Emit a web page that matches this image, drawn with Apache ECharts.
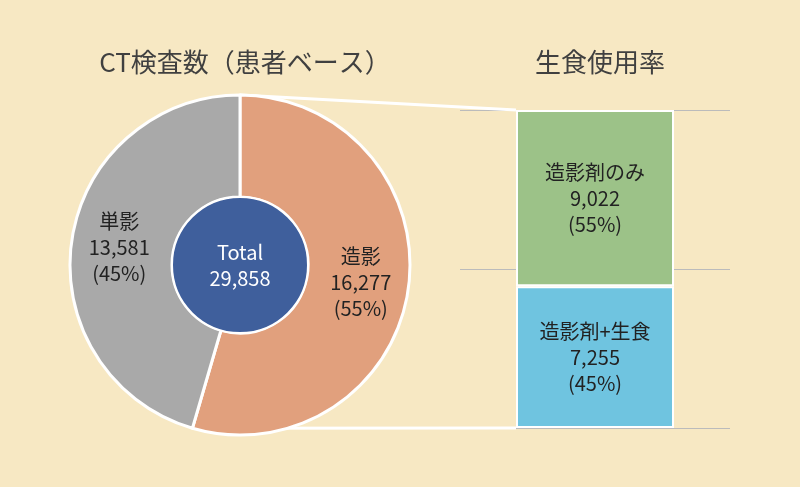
<!DOCTYPE html>
<html><head><meta charset="utf-8">
<script src="https://cdn.jsdelivr.net/npm/echarts@6/dist/echarts.min.js"></script>
<style>html,body{margin:0;background:#f7e8c3}#c{width:800px;height:487px}</style>
</head><body><div id="c"></div>
<script>
const pieNames=['造影','単影'];
const pieValues=[16277,13581];
const pieColors=['#e1a07d','#a9a9a9'];
const total=29858;
const barNames=['造影剤+生食','造影剤のみ'];
const barValues=[7255,9022];
const barColors=['#6fc4e0','#9cc288'];
const F='"Noto Sans CJK JP","Noto Sans",sans-serif';
const fmt=v=>v.toLocaleString('en-US');
const sum=barValues.reduce((a,b)=>a+b,0);
const chart=echarts.init(document.getElementById('c'));
const cx=240,cy=265,R=170;
chart.setOption({
 backgroundColor:'#f7e8c3',
 animation:false,
 title:[{text:'CT検査数（患者ベース）',left:240,top:44,textAlign:'center',textStyle:{fontFamily:F,fontSize:26,fontWeight:'normal',color:'#404040'}},
        {text:'生食使用率',left:595,top:44,textAlign:'center',textStyle:{fontFamily:F,fontSize:26,fontWeight:'normal',color:'#404040'}}],
 grid:{left:460,right:70,top:110,bottom:59},
 xAxis:{type:'category',data:['x'],show:false},
 yAxis:{type:'value',min:0,max:100,interval:50,axisLabel:{show:false},axisLine:{show:false},axisTick:{show:false},splitLine:{lineStyle:{color:'#bbbbbb',width:1}}},
 series:[
  {type:'pie',center:[cx,cy],radius:[68,R],startAngle:90,clockwise:true,
   itemStyle:{borderColor:'#fff',borderWidth:3},
   label:{position:'inside',fontFamily:F,fontSize:20,color:'#222',lineHeight:26,
     formatter:p=>p.name+'\n'+fmt(p.value)+'\n('+Math.round(p.value/total*100)+'%)'},
   data:pieNames.map((n,i)=>({name:n,value:pieValues[i],itemStyle:{color:pieColors[i]}}))},
  {type:'pie',center:[cx,cy],radius:[0,68],silent:true,
   itemStyle:{color:'#3f5f9c',borderColor:'#fff',borderWidth:2},
   label:{position:'center',fontFamily:F,fontSize:20,color:'#fff',lineHeight:26,formatter:()=>'Total\n'+fmt(total)},
   data:[{name:'Total',value:total}]},
  ...barNames.map((n,i)=>({type:'bar',stack:'s',barWidth:158,
   itemStyle:{color:barColors[i],borderColor:'#fff',borderWidth:2},
   label:{show:true,position:'inside',fontFamily:F,fontSize:20,color:'#222',lineHeight:26,
     formatter:()=>n+'\n'+fmt(barValues[i])+'\n('+Math.round(barValues[i]/sum*100)+'%)'},
   data:[barValues[i]/sum*100]}))
 ]
});
const topBar=chart.convertToPixel({gridIndex:0},['x',100]);
const botBar=chart.convertToPixel({gridIndex:0},['x',0]);
const bx=topBar[0]-79;
const ang=pieValues[0]/total*2*Math.PI;
chart.setOption({graphic:[
 {type:'line',shape:{x1:cx,y1:cy-R,x2:bx,y2:topBar[1]},style:{stroke:'#fff',lineWidth:3},z:0},
 {type:'line',shape:{x1:cx+R*Math.sin(ang),y1:cy-R*Math.cos(ang),x2:bx,y2:botBar[1]},style:{stroke:'#fff',lineWidth:3},z:0}
]});
</script></body></html>
